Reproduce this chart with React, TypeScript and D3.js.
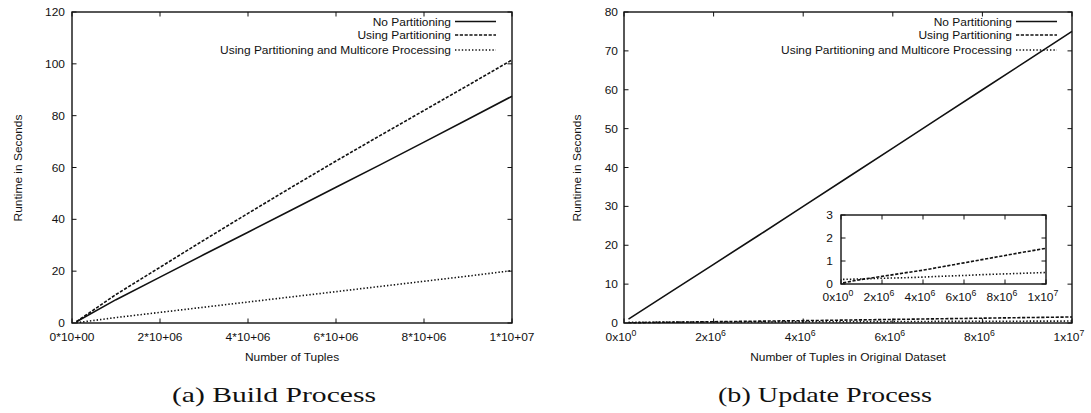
import React, { useEffect, useRef } from 'react';
import * as d3 from 'd3';

// number of tuples (x) shared by every series
const tuples = [1e5, 1e6, 2e6, 3e6, 4e6, 5e6, 6e6, 7e6, 8e6, 9e6, 1e7];

// (a) build process, runtime in seconds
const buildNoPart = [0.5, 9, 17.7, 26.4, 35, 43.7, 52.4, 61, 69.8, 78.6, 87.5];
const buildPart = [0.5, 11, 21.5, 32, 42.3, 52.5, 62.5, 72.3, 82, 91.7, 101.5];
const buildMulti = [0.1, 2.1, 4.1, 6.1, 8.1, 10.1, 12.1, 14.1, 16.1, 18.1, 20.2];

// (b) update process, runtime in seconds
const updNoPart = [1, 7.7, 15.1, 22.5, 30, 37.5, 45, 52.5, 60, 67.5, 75];
const updPart = [0.05, 0.2, 0.33, 0.47, 0.6, 0.76, 0.92, 1.08, 1.24, 1.4, 1.55];
const updMulti = [0.2, 0.22, 0.25, 0.27, 0.3, 0.34, 0.37, 0.41, 0.44, 0.47, 0.5];

const xTicks = [0, 2e6, 4e6, 6e6, 8e6, 1e7];
const buildXLabels = ['0*10+00', '2*10+06', '4*10+06', '6*10+06', '8*10+06', '1*10+07'];
const updXLabels = [['0x10', '0'], ['2x10', '6'], ['4x10', '6'], ['6x10', '6'], ['8x10', '6'], ['1x10', '7']];
const buildYTicks = [0, 20, 40, 60, 80, 100, 120];
const updYTicks = [0, 10, 20, 30, 40, 50, 60, 70, 80];
const insetYTicks = [0, 1, 2, 3];

const seriesNames = ['No Partitioning', 'Using Partitioning', 'Using Partitioning and Multicore Processing'];
const dashes = [null, '3.2,1.6', '1.4,2'];
const legendRows = [21.5, 35, 50];

const FONT = '"Liberation Sans", Arial, sans-serif';
const FS = 11.6;
const SX = 1.03;

type Sel = d3.Selection<SVGGElement, unknown, null, undefined>;

function label(g: Sel, x: number, y: number, s: string, anchor: string, sup?: string) {
  const t = g.append('text')
    .attr('transform', `translate(${x},${y}) scale(${SX},1)`)
    .attr('text-anchor', anchor)
    .style('font-family', FONT)
    .style('font-size', FS + 'px')
    .style('fill', '#111');
  t.append('tspan').text(s);
  if (sup) {
    t.append('tspan').attr('dy', -5).style('font-size', '8.5px').text(sup);
  }
  return t;
}

function frame(g: Sel, x: d3.ScaleLinear<number, number>, y: d3.ScaleLinear<number, number>, yt: number[], tick: number) {
  const [x0, x1] = x.range();
  const [y0, y1] = y.range();
  xTicks.forEach(v => {
    g.append('line').attr('x1', x(v)).attr('x2', x(v)).attr('y1', y0).attr('y2', y0 - tick);
    g.append('line').attr('x1', x(v)).attr('x2', x(v)).attr('y1', y1).attr('y2', y1 + tick);
  });
  yt.forEach(v => {
    g.append('line').attr('x1', x0).attr('x2', x0 + tick).attr('y1', y(v)).attr('y2', y(v));
    g.append('line').attr('x1', x1).attr('x2', x1 - tick).attr('y1', y(v)).attr('y2', y(v));
  });
  g.selectAll('line').attr('stroke', '#111').attr('stroke-width', 1);
  g.append('rect')
    .attr('x', x0).attr('y', y1).attr('width', x1 - x0).attr('height', y0 - y1)
    .attr('fill', 'none').attr('stroke', '#111').attr('stroke-width', 1.4);
}

function lines(g: Sel, x: d3.ScaleLinear<number, number>, y: d3.ScaleLinear<number, number>, series: number[][], styles: (string | null)[]) {
  const line = d3.line<number>().x((_, i) => x(tuples[i])).y(d => y(d));
  series.forEach((s, i) => {
    g.append('path')
      .attr('d', line(s))
      .attr('fill', 'none')
      .attr('stroke', '#111')
      .attr('stroke-width', 1.6)
      .attr('stroke-dasharray', styles[i]);
  });
}

function legend(g: Sel, textRight: number, lineX0: number, lineX1: number) {
  seriesNames.forEach((n, i) => {
    label(g, textRight, legendRows[i] + 4, n, 'end');
    g.append('line')
      .attr('x1', lineX0).attr('x2', lineX1).attr('y1', legendRows[i]).attr('y2', legendRows[i])
      .attr('stroke', '#111').attr('stroke-width', 1.6)
      .attr('stroke-dasharray', dashes[i]);
  });
}

function yTitle(g: Sel, x: number) {
  g.append('text')
    .attr('transform', `translate(${x},168) rotate(-90) scale(${SX},1)`)
    .attr('text-anchor', 'middle')
    .style('font-family', FONT).style('font-size', FS + 'px').style('fill', '#111')
    .text('Runtime in Seconds');
}

function caption(svg: d3.Selection<SVGSVGElement, unknown, null, undefined>, cx: number, s: string, w: number) {
  svg.append('text')
    .attr('x', cx).attr('y', 402)
    .attr('text-anchor', 'middle')
    .attr('textLength', w)
    .attr('lengthAdjust', 'spacingAndGlyphs')
    .style('font-family', '"Liberation Serif", "Times New Roman", serif')
    .style('font-size', '21px')
    .style('fill', '#111')
    .text(s);
}

export default function App() {
  const ref = useRef<SVGSVGElement>(null);

  useEffect(() => {
    const svg = d3.select(ref.current!);
    svg.selectAll('*').remove();

    // ---- (a) Build Process
    const xa = d3.scaleLinear().domain([0, 1e7]).range([72, 512]);
    const ya = d3.scaleLinear().domain([0, 120]).range([323, 12]);
    const a = svg.append('g');
    lines(a, xa, ya, [buildNoPart, buildPart, buildMulti], dashes);
    frame(a.append('g'), xa, ya, buildYTicks, 4.5);
    buildYTicks.forEach(v => label(a, 65, ya(v) + 4, String(v), 'end'));
    xTicks.forEach((v, i) => label(a, xa(v), 341, buildXLabels[i], 'middle'));
    label(a, 292, 361, 'Number of Tuples', 'middle');
    yTitle(a, 22);
    legend(a, 451, 455, 496);

    // ---- (b) Update Process
    const xb = d3.scaleLinear().domain([0, 1e7]).range([624, 1072]);
    const yb = d3.scaleLinear().domain([0, 80]).range([323, 12]);
    const b = svg.append('g');
    lines(b, xb, yb, [updNoPart, updPart, updMulti], dashes);
    frame(b.append('g'), xb, yb, updYTicks, 4.5);
    updYTicks.forEach(v => label(b, 618, yb(v) + 4, String(v), 'end'));
    xTicks.forEach((v, i) => label(b, xb(v) - 3, 341, updXLabels[i][0], 'middle', updXLabels[i][1]));
    label(b, 848, 361, 'Number of Tuples in Original Dataset', 'middle');
    yTitle(b, 581);
    legend(b, 1012, 1016, 1057);

    // ---- inset (zoom on the two small series)
    const xi = d3.scaleLinear().domain([0, 1e7]).range([841, 1046]);
    const yi = d3.scaleLinear().domain([0, 3]).range([284, 215]);
    const ins = svg.append('g');
    ins.append('rect').attr('x', 841).attr('y', 215).attr('width', 205).attr('height', 69).attr('fill', '#fff');
    lines(ins, xi, yi, [updPart, updMulti], [dashes[1], dashes[2]]);
    frame(ins.append('g'), xi, yi, insetYTicks, 4.5);
    insetYTicks.forEach(v => label(ins, 833, yi(v) + 4, String(v), 'end'));
    xTicks.forEach((v, i) => label(ins, xi(v) - 3, 301, updXLabels[i][0], 'middle', updXLabels[i][1]));

    caption(svg, 274, '(a) Build Process', 204);
    caption(svg, 825, '(b) Update Process', 214);
  }, []);

  return (
    <svg
      ref={ref}
      width={1091}
      height={413}
      style={{ position: 'absolute', left: 0, top: 0, background: '#fff' }}
    />
  );
}
